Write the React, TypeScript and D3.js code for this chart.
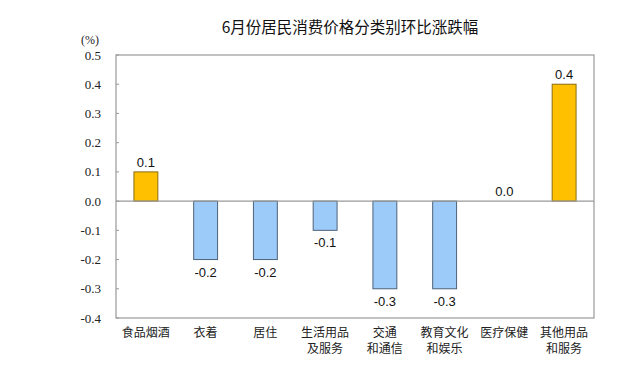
import React from "react";
import * as d3 from "d3";

const categories = [
  ["食品烟酒"],
  ["衣着"],
  ["居住"],
  ["生活用品", "及服务"],
  ["交通", "和通信"],
  ["教育文化", "和娱乐"],
  ["医疗保健"],
  ["其他用品", "和服务"],
];
const values = [0.1, -0.2, -0.2, -0.1, -0.3, -0.3, 0.0, 0.4];
const yTicks = [0.5, 0.4, 0.3, 0.2, 0.1, 0.0, -0.1, -0.2, -0.3, -0.4];
const title = "6月份居民消费价格分类别环比涨跌幅";
const unit = "(%)";

export default function App() {
  const W = 636, H = 378;
  const left = 116, right = 594, top = 55, bottom = 318;
  const x = d3.scaleBand<number>().domain(d3.range(values.length)).range([left, right]).paddingInner(0.6).paddingOuter(0.3);
  const y = d3.scaleLinear().domain([-0.4, 0.5]).range([bottom, top]);
  const sans = "Arial, 'Liberation Sans', 'Noto Sans CJK SC', sans-serif";
  const serif = "'Liberation Serif', 'Times New Roman', serif";
  const cjk = "'Noto Sans CJK SC', sans-serif";
  return (
    <svg width={W} height={H} style={{ position: "absolute", left: 0, top: 0, background: "#fff" }}>
      <text x={350} y={33} textAnchor="middle" fontFamily={cjk} fontSize={15.5} fill="#111">{title}</text>
      <text x={90} y={44} textAnchor="middle" fontFamily={serif} fontSize={12} fill="#222">{unit}</text>
      <rect x={left} y={top} width={right - left} height={bottom - top} fill="none" stroke="#999" strokeWidth={1.2} />
      {yTicks.map((t) => (
        <g key={t}>
          <line x1={left} x2={left + 3} y1={y(t)} y2={y(t)} stroke="#999" />
          <text x={101} y={y(t) + 4.5} textAnchor="end" fontFamily={serif} fontSize={13} fill="#222">{t.toFixed(1)}</text>
        </g>
      ))}
      {values.map((v, i) => {
        const pos = v > 0;
        const y0 = y(Math.max(v, 0));
        const h = Math.abs(y(v) - y(0));
        return (
          <g key={i}>
            {v !== 0 && (
              <rect x={x(i)} y={y0} width={x.bandwidth()} height={h}
                fill={pos ? "#FFC000" : "#9DCBF9"} stroke={pos ? "#8a6d10" : "#4d6378"} strokeWidth={1} />
            )}
            <text x={x(i)! + x.bandwidth() / 2} y={v >= 0 ? y(v) - 5 : y(v) + 17}
              textAnchor="middle" fontFamily={sans} fontSize={13} fill="#111">{v.toFixed(1)}</text>
            {categories[i].map((line, j) => (
              <text key={j} x={x(i)! + x.bandwidth() / 2} y={337 + j * 16} textAnchor="middle"
                fontFamily={cjk} fontSize={12} fill="#222">{line}</text>
            ))}
          </g>
        );
      })}
      <line x1={left} x2={right} y1={y(0)} y2={y(0)} stroke="#999" strokeWidth={1.2} />
    </svg>
  );
}
